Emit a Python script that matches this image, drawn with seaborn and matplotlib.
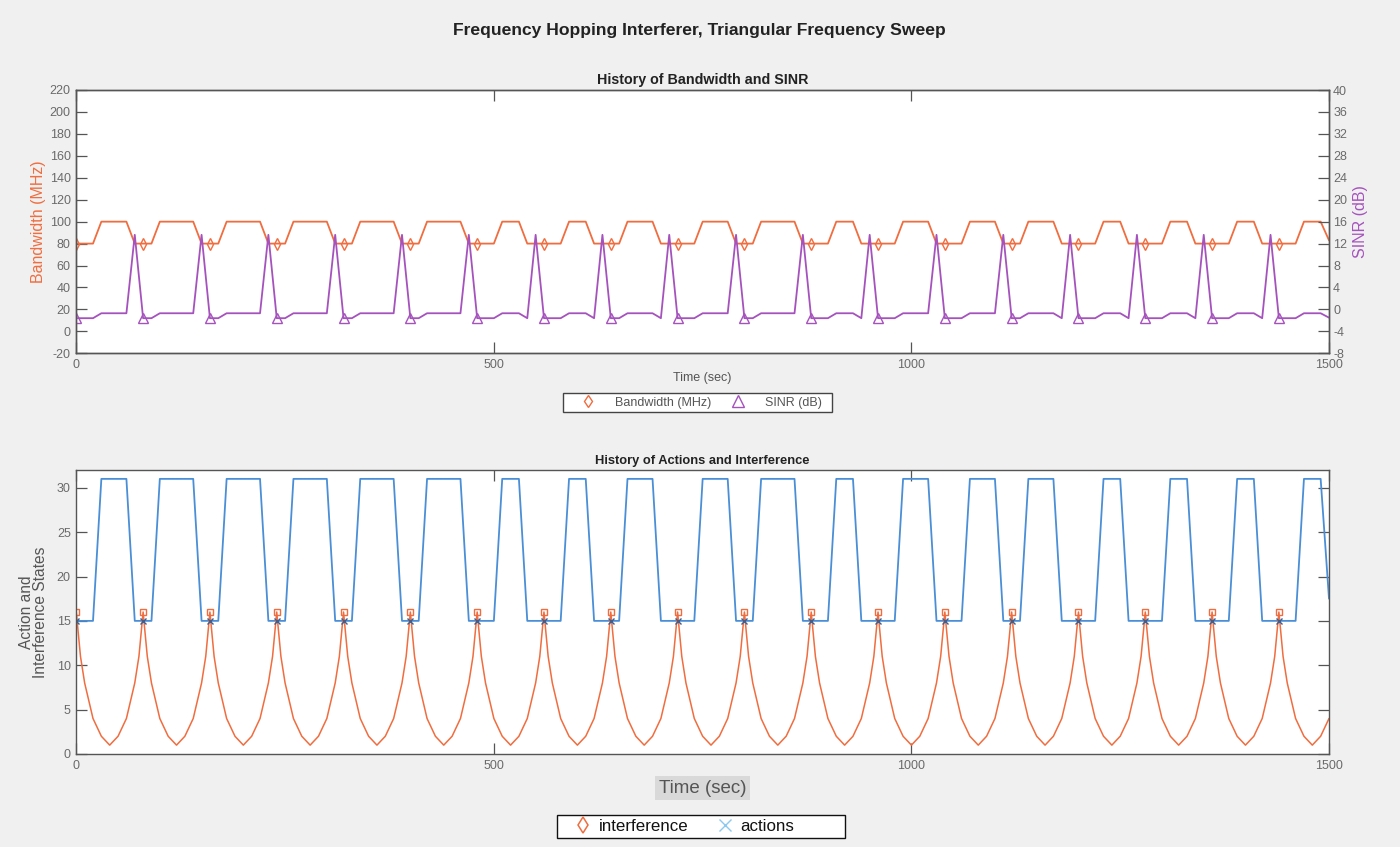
import matplotlib
matplotlib.use("Agg")
import matplotlib.pyplot as plt
from matplotlib.lines import Line2D
from matplotlib.patches import Rectangle
import seaborn as sns

# ---------------- data ----------------
# vertices of the bandwidth / action state polyline (seconds)
state_t = [0, 20,
           30, 60, 70, 90,
           100, 140, 150, 170,
           180, 220, 230, 250,
           260, 300, 310, 330,
           340, 380, 390, 410,
           420, 460, 470, 500,
           510, 530, 540, 580,
           590, 610, 620, 650,
           660, 690, 700, 740,
           750, 780, 790, 810,
           820, 860, 870, 900,
           910, 930, 940, 980,
           990, 1020, 1030, 1060,
           1070, 1100, 1110, 1130,
           1140, 1170, 1180, 1220,
           1230, 1250, 1260, 1300,
           1310, 1330, 1340, 1380,
           1390, 1410, 1420, 1460,
           1470, 1490, 1500]
bandwidth_v = [80, 80] + [100, 100, 80, 80] * 18 + [100, 100, 83]
actions_v = [15, 15] + [31, 31, 15, 15] * 18 + [31, 31, 17.5]

# SINR polyline vertices (dB)
sinr_t = [0, 20, 30, 60, 70, 80, 90, 100, 140, 150, 160, 170, 180, 220, 230, 240,
          250, 260, 300, 310, 320, 330, 340, 380, 390, 400, 410, 420, 460, 470, 480,
          500, 510, 530, 540, 550, 560, 580, 590, 610, 620, 630, 640, 650, 660, 690,
          700, 710, 720, 740, 750, 780, 790, 800, 810, 820, 860, 870, 880, 900, 910,
          930, 940, 950, 960, 980, 990, 1020, 1030, 1040, 1060, 1070, 1100, 1110,
          1120, 1130, 1140, 1170, 1180, 1190, 1200, 1220, 1230, 1250, 1260, 1270,
          1280, 1300, 1310, 1330, 1340, 1350, 1360, 1380, 1390, 1410, 1420, 1430,
          1440, 1460, 1470, 1490, 1500]
sinr_v = [-1.6, -1.6, -0.7, -0.7, 13.6, -1.6, -1.6, -0.7, -0.7, 13.6, -1.6, -1.6,
          -0.7, -0.7, 13.6, -1.6, -1.6, -0.7, -0.7, 13.6, -1.6, -1.6, -0.7, -0.7,
          13.6, -1.6, -1.6, -0.7, -0.7, 13.6, -1.6, -1.6, -0.7, -0.7, -1.6, 13.6,
          -1.6, -1.6, -0.7, -0.7, -1.6, 13.6, -1.6, -1.6, -0.7, -0.7, -1.6, 13.6,
          -1.6, -1.6, -0.7, -0.7, 13.6, -1.6, -1.6, -0.7, -0.7, 13.6, -1.6, -1.6,
          -0.7, -0.7, -1.6, 13.6, -1.6, -1.6, -0.7, -0.7, 13.6, -1.6, -1.6, -0.7,
          -0.7, 13.6, -1.6, -1.6, -0.7, -0.7, -1.6, 13.6, -1.6, -1.6, -0.7, -0.7,
          -1.6, 13.6, -1.6, -1.6, -0.7, -0.7, -1.6, 13.6, -1.6, -1.6, -0.7, -0.7,
          -1.6, 13.6, -1.6, -1.6, -0.7, -0.7, -1.5]

# interference state, sampled every 5 s
interf_t = list(range(0, 1501, 5))
interf_v = [
    16, 11, 8, 6, 4, 3, 2, 1.5, 1, 1.5, 2, 3, 4, 6, 8, 11,
    16, 11, 8, 6, 4, 3, 2, 1.5, 1, 1.5, 2, 3, 4, 6, 8, 11,
    16, 11, 8, 6, 4, 3, 2, 1.5, 1, 1.5, 2, 3, 4, 6, 8, 11,
    16, 11, 8, 6, 4, 3, 2, 1.5, 1, 1.5, 2, 3, 4, 6, 8, 11,
    16, 11, 8, 6, 4, 3, 2, 1.5, 1, 1.5, 2, 3, 4, 6, 8, 11,
    16, 11, 8, 6, 4, 3, 2, 1.5, 1, 1.5, 2, 3, 4, 6, 8, 11,
    16, 11, 8, 6, 4, 3, 2, 1.5, 1, 1.5, 2, 3, 4, 6, 8, 11,
    16, 11, 8, 6, 4, 3, 2, 1.5, 1, 1.5, 2, 3, 4, 6, 8, 11,
    16, 11, 8, 6, 4, 3, 2, 1.5, 1, 1.5, 2, 3, 4, 6, 8, 11,
    16, 11, 8, 6, 4, 3, 2, 1.5, 1, 1.5, 2, 3, 4, 6, 8, 11,
    16, 11, 8, 6, 4, 3, 2, 1.5, 1, 1.5, 2, 3, 4, 6, 8, 11,
    16, 11, 8, 6, 4, 3, 2, 1.5, 1, 1.5, 2, 3, 4, 6, 8, 11,
    16, 11, 8, 6, 4, 3, 2, 1.5, 1, 1.5, 2, 3, 4, 6, 8, 11,
    16, 11, 8, 6, 4, 3, 2, 1.5, 1, 1.5, 2, 3, 4, 6, 8, 11,
    16, 11, 8, 6, 4, 3, 2, 1.5, 1, 1.5, 2, 3, 4, 6, 8, 11,
    16, 11, 8, 6, 4, 3, 2, 1.5, 1, 1.5, 2, 3, 4, 6, 8, 11,
    16, 11, 8, 6, 4, 3, 2, 1.5, 1, 1.5, 2, 3, 4, 6, 8, 11,
    16, 11, 8, 6, 4, 3, 2, 1.5, 1, 1.5, 2, 3, 4, 6, 8, 11,
    16, 11, 8, 6, 4, 3, 2, 1.5, 1, 1.5, 2, 3, 4,
]

# hop instants where markers are drawn
mark_t = [0, 80, 160, 240, 320, 400, 480, 560, 640, 720, 800, 880, 960, 1040,
          1120, 1200, 1280, 1360, 1440]
mark_bw = [80] * len(mark_t)
mark_sinr = [-1.6] * len(mark_t)
mark_interf = [16] * len(mark_t)
mark_act = [15] * len(mark_t)

# ---------------- style ----------------
sns.set_theme(style="white")
plt.rcParams["font.family"] = ["Liberation Sans", "DejaVu Sans"]
plt.rcParams["axes.unicode_minus"] = False

BG = "#f0f0f0"
ORANGE = "#f06d3f"
PURPLE = "#a552bd"
BLUE = "#4a8fd6"
XMARK = "#3d5f8f"
TICKC = "#6a6a6a"
SPINE = "#555555"

W, H = 1400, 847
fig = plt.figure(figsize=(W / 100, H / 100), dpi=100, facecolor=BG)

def frac(l, t, r, b):
    return [l / W, 1 - b / H, (r - l) / W, (b - t) / H]

ax1 = fig.add_axes(frac(76.3, 90, 1329, 353.3))
ax2 = ax1.twinx()
ax3 = fig.add_axes(frac(76.3, 470, 1329, 754))

# ---- top panel ----
sns.lineplot(x=state_t, y=bandwidth_v, ax=ax1, color=ORANGE, lw=1.3,
             estimator=None, sort=False, legend=False)
sns.lineplot(x=mark_t, y=mark_bw, ax=ax1, color=ORANGE, linestyle="none",
             marker="d", markersize=5.8, markerfacecolor="none",
             markeredgecolor=ORANGE, markeredgewidth=1.0,
             estimator=None, sort=False, legend=False)
sns.lineplot(x=sinr_t, y=sinr_v, ax=ax2, color=PURPLE, lw=1.3,
             estimator=None, sort=False, legend=False)
sns.lineplot(x=mark_t, y=mark_sinr, ax=ax2, color=PURPLE, linestyle="none",
             marker="^", markersize=6.5, markerfacecolor="none",
             markeredgecolor=PURPLE, markeredgewidth=1.0,
             estimator=None, sort=False, legend=False)

ax1.set_xlim(0, 1500)
ax1.set_ylim(-20, 220)
ax2.set_ylim(-8, 40)
ax1.set_yticks(range(-20, 221, 20))
ax2.set_yticks(range(-8, 41, 4))
ax1.set_xticks([0, 500, 1000, 1500])
ax1.set_facecolor("white")

ax1.set_title("History of Bandwidth and SINR", fontsize=10.3, fontweight="bold",
              color="#222222", pad=4)
ax1.set_xlabel("Time (sec)", fontsize=9, color="#555555", labelpad=1)
ax1.set_ylabel("Bandwidth (MHz)", fontsize=11.5, color=ORANGE, labelpad=3)
ax2.set_ylabel("SINR (dB)", fontsize=11.5, color=PURPLE, labelpad=4)

# ---- bottom panel ----
sns.lineplot(x=state_t, y=actions_v, ax=ax3, color=BLUE, lw=1.3,
             estimator=None, sort=False, legend=False)
sns.lineplot(x=interf_t, y=interf_v, ax=ax3, color=ORANGE, lw=1.1,
             estimator=None, sort=False, legend=False)
sns.lineplot(x=mark_t, y=mark_interf, ax=ax3, color=ORANGE, linestyle="none",
             marker="s", markersize=5, markerfacecolor="none",
             markeredgecolor=ORANGE, markeredgewidth=1.0,
             estimator=None, sort=False, legend=False)
sns.lineplot(x=mark_t, y=mark_act, ax=ax3, color=XMARK, linestyle="none",
             marker="x", markersize=5, markeredgecolor=XMARK,
             markeredgewidth=1.0, estimator=None, sort=False, legend=False)

ax3.set_xlim(0, 1500)
ax3.set_ylim(0, 32)
ax3.set_yticks(range(0, 31, 5))
ax3.set_xticks([0, 500, 1000, 1500])
ax3.set_facecolor("white")
ax3.set_title("History of Actions and Interference", fontsize=9.3, fontweight="bold",
              color="#222222", pad=4)
ax3.set_xlabel("Time (sec)", fontsize=13.5, color="#555555", labelpad=6,
               bbox=dict(facecolor="#d9d9d9", edgecolor="none", pad=2.5))
ax3.set_ylabel("Action and\nInterference States", fontsize=11.2, color="#555555",
               labelpad=6, linespacing=0.95)

# ---- axes cosmetics ----
for ax in (ax1, ax2, ax3):
    for s in ax.spines.values():
        s.set_color(SPINE)
        s.set_linewidth(1.0)
        s.set_visible(True)
    ax.tick_params(which="both", direction="in", length=8, width=0.9,
                   color=SPINE, labelcolor=TICKC, labelsize=9, pad=4)

ax1.tick_params(axis="x", top=True, bottom=True, pad=4)
ax1.tick_params(axis="y", left=True, right=False)
ax2.tick_params(axis="y", left=False, right=True, pad=3)
ax3.tick_params(axis="x", top=True, bottom=True, pad=4)
ax3.tick_params(axis="y", left=True, right=True)

# ---- figure title ----
fig.text(0.4995, 1 - 30 / H, "Frequency Hopping Interferer, Triangular Frequency Sweep",
         ha="center", va="center", fontsize=12.6, fontweight="bold", color="#222222")

# ---- legends (box drawn separately to match the reference frame) ----
def legend_box(l, t, r, b, ec):
    fig.add_artist(Rectangle((l / W, 1 - b / H), (r - l) / W, (b - t) / H,
                             transform=fig.transFigure, facecolor="white",
                             edgecolor=ec, linewidth=1.0, zorder=3))

legend_box(563, 393, 832, 412, "#444444")
h_top = [Line2D([], [], ls="none", marker="d", ms=6, mfc="none", mec=ORANGE, mew=1.0),
         Line2D([], [], ls="none", marker="^", ms=8, mfc="none", mec=PURPLE, mew=1.0)]
leg1 = fig.legend(h_top, ["Bandwidth (MHz)", "SINR (dB)"], loc="center left",
                  bbox_to_anchor=(575.5 / W, 1 - 402.5 / H), ncol=2, fontsize=9,
                  frameon=False, borderpad=0, borderaxespad=0,
                  handlelength=2.0, handletextpad=1.16, columnspacing=1.16,
                  labelcolor="#555555")
leg1.set_zorder(5)

legend_box(557, 815, 845, 838, "#111111")
h_bot = [Line2D([], [], ls="none", marker="d", ms=7.8, mfc="none", mec=ORANGE, mew=1.1),
         Line2D([], [], ls="none", marker="x", ms=9, mec="#8cc8f0", mew=1.0)]
leg2 = fig.legend(h_bot, ["interference", "actions"], loc="center left",
                  bbox_to_anchor=(573 / W, 1 - 826.5 / H), ncol=2, fontsize=12.2,
                  frameon=False, borderpad=0, borderaxespad=0,
                  handlelength=1.2, handletextpad=0.3, columnspacing=1.6,
                  labelcolor="#111111")
leg2.set_zorder(5)

fig.savefig("out.png", dpi=100, facecolor=BG)
